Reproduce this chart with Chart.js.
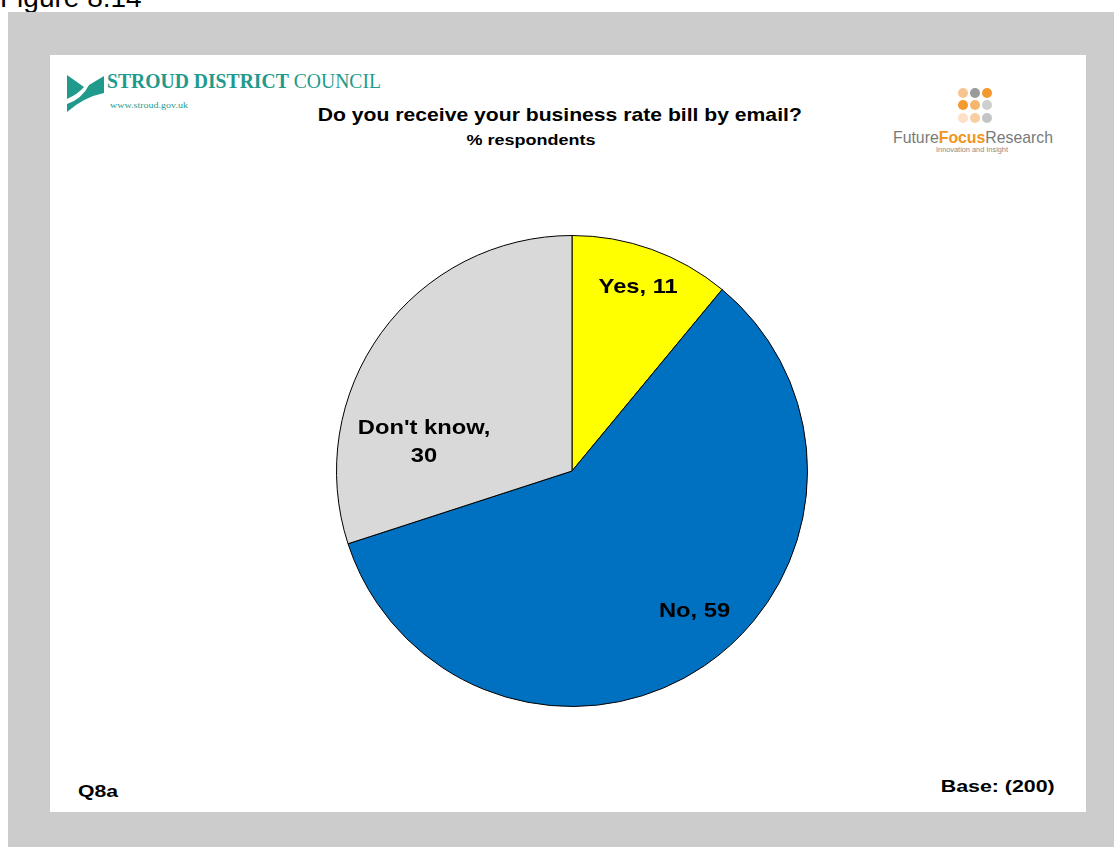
<!DOCTYPE html>
<html>
<head>
<meta charset="utf-8">
<script src="https://cdn.jsdelivr.net/npm/chart.js@4/dist/chart.umd.min.js"></script>
<style>
  html, body { margin: 0; padding: 0; }
  body {
    width: 1114px; height: 847px; position: relative; overflow: hidden;
    background: #ffffff; font-family: "Liberation Sans", Arial, sans-serif;
  }
  .abs { position: absolute; white-space: nowrap; line-height: 1; }
  #frame { position: absolute; left: 8px; top: 12px; width: 1106px; height: 835px; background: #cccccc; }
  #panel { position: absolute; left: 50px; top: 55px; width: 1036px; height: 757px; background: #ffffff; }
  #pieWrap { position: absolute; left: 334px; top: 233px; width: 476px; height: 476px; }
  .bold { font-weight: bold; color: #000; }
  .serif { font-family: "Liberation Serif", "DejaVu Serif", serif; color: #1f9a8c; }
</style>
</head>
<body>
<div class="abs" id="figLabel" style="left:0px; top:-16px; font-size:28px; color:#000;">Figure 8.14</div>
<div id="frame"></div>
<div id="panel"></div>

<!-- council logo -->
<svg class="abs" style="left:0;top:0" width="200" height="130">
  <path d="M67,75 L84,87 Q78,94 67,99 Z" fill="#1f9a8c"/>
  <path d="M67,112 L67,104 Q82,99 89,85 L104,76 L104,93 Q84,97 67,112 Z" fill="#1f9a8c"/>
</svg>
<div class="abs serif fit" data-w="274" data-anchor="left" data-x="107" data-base="89" data-size="21.5"><b>STROUD DISTRICT</b> COUNCIL</div>
<div class="abs serif fit" data-w="78" data-anchor="left" data-x="110" data-base="109" data-size="8">www.stroud.gov.uk</div>

<!-- research agency logo -->
<svg class="abs" style="left:0;top:0" width="1114" height="160">
  <circle cx="963" cy="93" r="5" fill="#f7c38f"/>
  <circle cx="975" cy="93" r="5" fill="#9a9a9a"/>
  <circle cx="987" cy="93" r="5" fill="#f39a2e"/>
  <circle cx="963" cy="105" r="5" fill="#f39a2e"/>
  <circle cx="975" cy="105" r="5" fill="#f6b66e"/>
  <circle cx="987" cy="105" r="5" fill="#cfcfcf"/>
  <circle cx="963" cy="118" r="5" fill="#fde0c6"/>
  <circle cx="975" cy="118" r="5" fill="#f9cfa2"/>
  <circle cx="987" cy="118" r="5" fill="#c4c4c4"/>
</svg>
<div class="abs fit" data-w="160" data-anchor="left" data-x="893" data-base="143" data-size="17" style="color:#7a7a7a;">Future<b style="color:#f29420;">Focus</b>Research</div>
<div class="abs fit" data-w="72" data-anchor="left" data-x="936" data-base="152" data-size="7.5" style="color:#8a8a8a;">Innovation and Insight</div>

<!-- titles -->
<div class="abs bold fit" data-w="484" data-anchor="center" data-x="560" data-base="122" data-size="18.5">Do you receive your business rate bill by email?</div>
<div class="abs bold fit" data-w="129" data-anchor="center" data-x="530.5" data-base="145" data-size="14.5">% respondents</div>

<!-- footer -->
<div class="abs bold fit" data-w="40" data-anchor="left" data-x="78" data-base="797" data-size="17">Q8a</div>
<div class="abs bold fit" data-w="114" data-anchor="right" data-x="1055" data-base="792" data-size="17">Base: (200)</div>

<div id="pieWrap"><canvas id="pie" width="476" height="476"></canvas></div>

<script>
// Survey answers, % respondents
const categories = ["Yes", "No", "Don't know"];
const percentages = [11, 59, 30];
const sliceColors = ["#ffff00", "#0070c0", "#d9d9d9"];

// label placement: fraction of the radius along the slice middle, plus a small nudge
const labelRadius = [0.83, 0.79, 0.64];
const labelNudge = [[0, 0], [18, -14], [-26, 60]];
const labelWrap = [false, false, true];

// place and stretch the html text blocks to their widths
document.querySelectorAll('.fit').forEach(el => {
  const size = parseFloat(el.dataset.size);
  el.style.fontSize = size + 'px';
  const natural = el.getBoundingClientRect().width;
  const target = parseFloat(el.dataset.w);
  const sx = target / natural;
  const x = parseFloat(el.dataset.x);
  let left = x;
  if (el.dataset.anchor === 'center') left = x - natural / 2;
  if (el.dataset.anchor === 'right') left = x - natural;
  let origin = 'left';
  if (el.dataset.anchor === 'center') origin = 'center';
  if (el.dataset.anchor === 'right') origin = 'right';
  el.style.left = left + 'px';
  el.style.top = (parseFloat(el.dataset.base) - 0.8465 * size) + 'px';
  el.style.transformOrigin = origin + ' center';
  el.style.transform = 'scaleX(' + sx + ')';
});

const sliceLabels = {
  id: 'sliceLabels',
  afterDatasetsDraw(chart) {
    const ctx = chart.ctx;
    const meta = chart.getDatasetMeta(0);
    meta.data.forEach((arc, i) => {
      const p = arc.getProps(['x', 'y', 'startAngle', 'endAngle', 'outerRadius'], true);
      const mid = (p.startAngle + p.endAngle) / 2;
      const r = p.outerRadius * labelRadius[i];
      const cx = p.x + Math.cos(mid) * r + labelNudge[i][0];
      const cy = p.y + Math.sin(mid) * r + labelNudge[i][1];
      const lines = labelWrap[i]
        ? [categories[i] + ',', String(percentages[i])]
        : [categories[i] + ', ' + percentages[i]];
      ctx.save();
      ctx.font = 'bold 21px "Liberation Sans", Arial, sans-serif';
      ctx.fillStyle = '#000';
      ctx.textAlign = 'center';
      ctx.textBaseline = 'middle';
      const lh = 28;
      lines.forEach((t, k) => {
        const y = cy + (k - (lines.length - 1) / 2) * lh;
        ctx.save();
        ctx.translate(cx, y);
        ctx.scale(1.13, 1);
        ctx.fillText(t, 0, 0);
        ctx.restore();
      });
      ctx.restore();
    });
  }
};

new Chart(document.getElementById('pie'), {
  type: 'pie',
  data: {
    labels: categories,
    datasets: [{
      data: percentages,
      backgroundColor: sliceColors,
      borderColor: '#000000',
      borderWidth: 1
    }]
  },
  options: {
    responsive: false,
    devicePixelRatio: 1,
    animation: false,
    layout: { padding: 2 },
    plugins: {
      legend: { display: false },
      tooltip: { enabled: false },
      title: { display: false }
    }
  },
  plugins: [sliceLabels]
});
</script>
</body>
</html>
